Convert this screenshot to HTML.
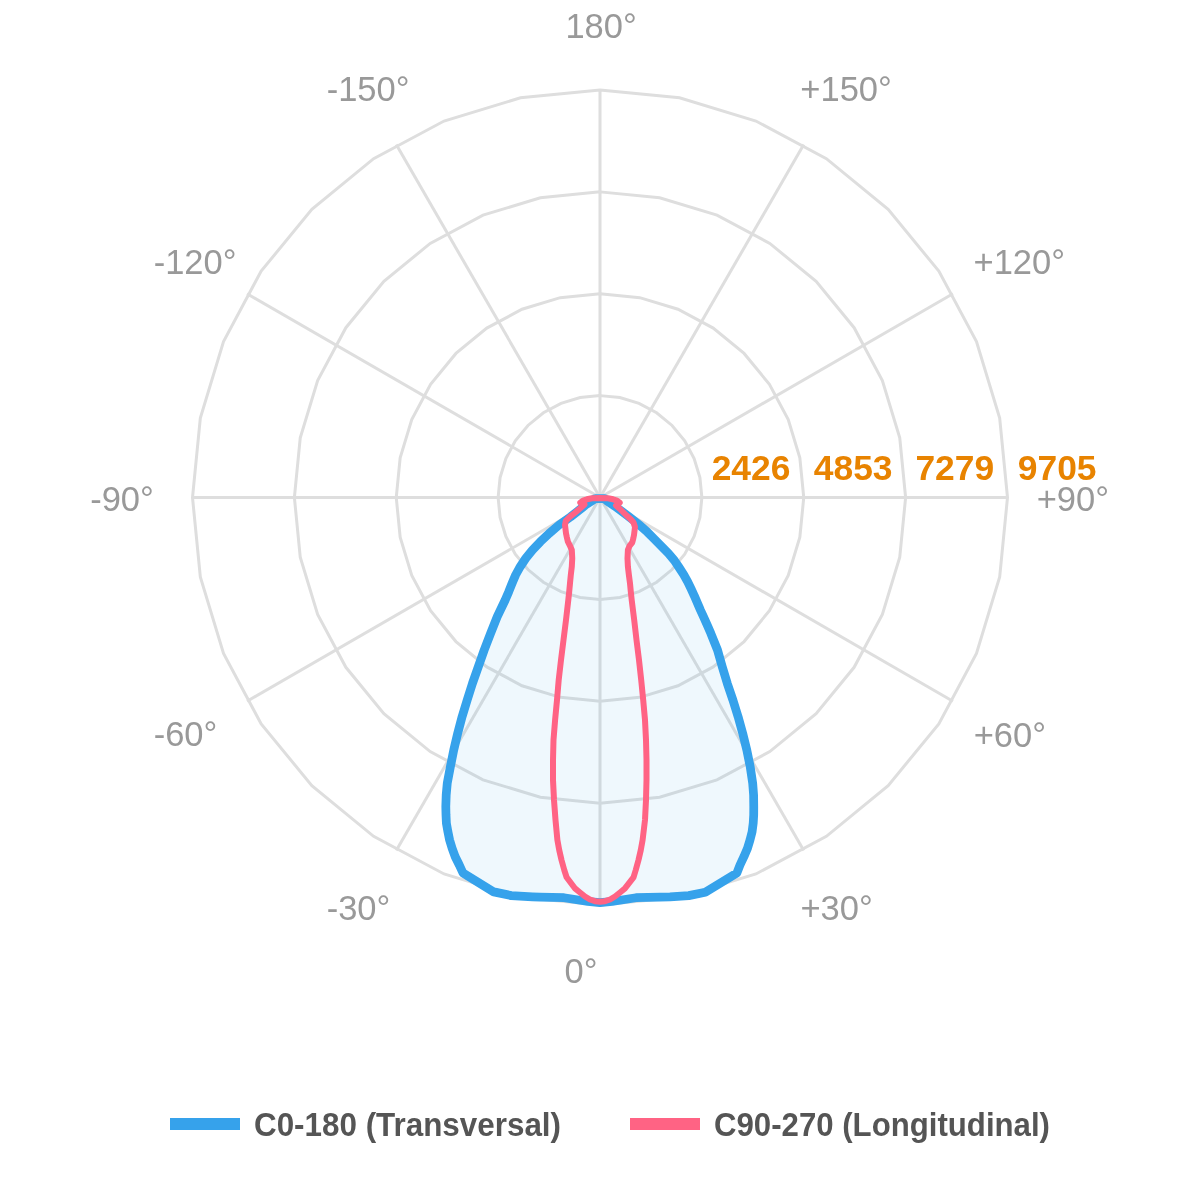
<!DOCTYPE html><html><head><meta charset="utf-8"><style>html,body{margin:0;padding:0;background:#fff;overflow:hidden;}svg{display:block;will-change:transform;}text{font-family:"Liberation Sans",sans-serif;}</style></head><body>
<svg width="1200" height="1200" viewBox="0 0 1200 1200">
<path d="M600.00,395.62 L619.87,397.58 L638.99,403.38 L656.60,412.79 L672.04,425.46 L684.71,440.90 L694.12,458.51 L699.92,477.63 L701.88,497.50 L699.92,517.37 L694.12,536.49 L684.71,554.10 L672.04,569.54 L656.60,582.21 L638.99,591.62 L619.87,597.42 L600.00,599.38 L580.13,597.42 L561.01,591.62 L543.40,582.21 L527.96,569.54 L515.29,554.10 L505.88,536.49 L500.08,517.37 L498.12,497.50 L500.08,477.63 L505.88,458.51 L515.29,440.90 L527.96,425.46 L543.40,412.79 L561.01,403.38 L580.13,397.58 Z" fill="none" stroke="#dedede" stroke-width="3"/>
<path d="M600.00,293.75 L639.75,297.66 L677.97,309.26 L713.20,328.09 L744.07,353.43 L769.41,384.30 L788.24,419.53 L799.84,457.75 L803.75,497.50 L799.84,537.25 L788.24,575.47 L769.41,610.70 L744.07,641.57 L713.20,666.91 L677.97,685.74 L639.75,697.34 L600.00,701.25 L560.25,697.34 L522.03,685.74 L486.80,666.91 L455.93,641.57 L430.59,610.70 L411.76,575.47 L400.16,537.25 L396.25,497.50 L400.16,457.75 L411.76,419.53 L430.59,384.30 L455.93,353.43 L486.80,328.09 L522.03,309.26 L560.25,297.66 Z" fill="none" stroke="#dedede" stroke-width="3"/>
<path d="M600.00,191.88 L659.62,197.75 L716.96,215.14 L769.80,243.38 L816.11,281.39 L854.12,327.70 L882.36,380.54 L899.75,437.88 L905.62,497.50 L899.75,557.12 L882.36,614.46 L854.12,667.30 L816.11,713.61 L769.80,751.62 L716.96,779.86 L659.62,797.25 L600.00,803.12 L540.38,797.25 L483.04,779.86 L430.20,751.62 L383.89,713.61 L345.88,667.30 L317.64,614.46 L300.25,557.12 L294.38,497.50 L300.25,437.88 L317.64,380.54 L345.88,327.70 L383.89,281.39 L430.20,243.38 L483.04,215.14 L540.38,197.75 Z" fill="none" stroke="#dedede" stroke-width="3"/>
<path d="M600.00,90.00 L679.50,97.83 L755.94,121.02 L826.39,158.68 L888.15,209.35 L938.82,271.11 L976.48,341.56 L999.67,418.00 L1007.50,497.50 L999.67,577.00 L976.48,653.44 L938.82,723.89 L888.15,785.65 L826.39,836.32 L755.94,873.98 L679.50,897.17 L600.00,905.00 L520.50,897.17 L444.06,873.98 L373.61,836.32 L311.85,785.65 L261.18,723.89 L223.52,653.44 L200.33,577.00 L192.50,497.50 L200.33,418.00 L223.52,341.56 L261.18,271.11 L311.85,209.35 L373.61,158.68 L444.06,121.02 L520.50,97.83 Z" fill="none" stroke="#dedede" stroke-width="3"/>
<line x1="600.00" y1="497.50" x2="600.00" y2="90.00" stroke="#dedede" stroke-width="3"/>
<line x1="600.00" y1="497.50" x2="803.75" y2="144.59" stroke="#dedede" stroke-width="3"/>
<line x1="600.00" y1="497.50" x2="952.91" y2="293.75" stroke="#dedede" stroke-width="3"/>
<line x1="600.00" y1="497.50" x2="1007.50" y2="497.50" stroke="#dedede" stroke-width="3"/>
<line x1="600.00" y1="497.50" x2="952.91" y2="701.25" stroke="#dedede" stroke-width="3"/>
<line x1="600.00" y1="497.50" x2="803.75" y2="850.41" stroke="#dedede" stroke-width="3"/>
<line x1="600.00" y1="497.50" x2="600.00" y2="905.00" stroke="#dedede" stroke-width="3"/>
<line x1="600.00" y1="497.50" x2="396.25" y2="850.41" stroke="#dedede" stroke-width="3"/>
<line x1="600.00" y1="497.50" x2="247.09" y2="701.25" stroke="#dedede" stroke-width="3"/>
<line x1="600.00" y1="497.50" x2="192.50" y2="497.50" stroke="#dedede" stroke-width="3"/>
<line x1="600.00" y1="497.50" x2="247.09" y2="293.75" stroke="#dedede" stroke-width="3"/>
<line x1="600.00" y1="497.50" x2="396.25" y2="144.59" stroke="#dedede" stroke-width="3"/>
<g style="opacity:0.999">
<text x="565.45" y="37.90" font-size="34.5" fill="#999">180°</text>
<text x="800.35" y="101.05" font-size="34.5" fill="#999">+150°</text>
<text x="326.70" y="101.05" font-size="34.5" fill="#999">-150°</text>
<text x="973.50" y="274.20" font-size="34.5" fill="#999">+120°</text>
<text x="153.70" y="274.30" font-size="34.5" fill="#999">-120°</text>
<text x="1036.70" y="510.55" font-size="34.5" fill="#999">+90°</text>
<text x="90.20" y="510.60" font-size="34.5" fill="#999">-90°</text>
<text x="973.70" y="746.55" font-size="34.5" fill="#999">+60°</text>
<text x="153.70" y="746.30" font-size="34.5" fill="#999">-60°</text>
<text x="800.40" y="919.90" font-size="34.5" fill="#999">+30°</text>
<text x="326.70" y="919.90" font-size="34.5" fill="#999">-30°</text>
<text x="564.60" y="982.90" font-size="34.5" fill="#999">0°</text>
</g>
<path d="M604.50,498.50 L600.00,498.50 L595.50,498.50 L586.50,504.20 L581.50,508.30 L570.70,516.70 L559.00,525.00 L549.20,533.30 L540.40,541.70 L532.50,550.00 L525.80,558.30 L520.20,566.70 L515.60,575.00 L512.10,583.30 L508.75,591.70 L505.20,600.00 L497.25,616.70 L490.60,633.30 L484.20,650.00 L478.30,666.70 L472.50,683.30 L467.20,700.00 L462.10,716.70 L457.70,733.30 L453.75,750.00 L450.40,766.70 L447.25,783.30 L446.20,795.00 L445.80,806.70 L446.00,815.00 L446.40,823.30 L447.90,831.70 L449.60,840.00 L452.10,848.30 L455.20,856.70 L459.30,865.00 L463.00,873.00 L493.75,891.90 L511.25,895.60 L532.50,896.90 L540.00,897.20 L564.00,897.70 L588.00,901.50 L600.00,902.70 L612.00,901.50 L636.00,897.70 L660.00,897.20 L670.00,896.90 L688.75,895.60 L705.30,892.20 L736.90,873.00 L740.00,865.00 L743.90,856.70 L747.50,848.30 L750.00,840.00 L752.10,831.70 L753.20,823.30 L753.70,815.00 L753.75,806.70 L753.60,795.00 L752.70,783.30 L750.20,766.70 L746.80,750.00 L742.70,733.30 L738.10,716.70 L732.90,700.00 L727.25,683.30 L722.25,666.70 L717.50,650.00 L710.80,633.30 L707.20,625.00 L703.50,616.70 L700.40,610.00 L697.40,603.00 L694.30,595.80 L691.00,588.70 L687.60,581.70 L683.70,574.60 L679.10,567.50 L674.30,560.40 L668.30,553.30 L661.40,546.20 L654.50,539.20 L647.40,532.10 L640.00,525.40 L628.00,516.00 L615.00,506.30 L606.50,500.60 Z" fill="rgba(54,162,235,0.08)" stroke="#36a2eb" stroke-width="8.75" stroke-linejoin="round"/>
<path d="M600.00,498.10 L592.00,498.20 L587.00,499.30 L583.00,500.60 L580.30,502.60 L584.50,504.50 L580.00,508.50 L574.75,513.00 L570.00,516.70 L565.80,520.80 L565.00,525.00 L566.00,533.30 L566.90,537.50 L567.90,541.70 L570.00,545.80 L571.80,550.00 L572.25,558.30 L571.80,566.70 L570.80,575.00 L570.00,583.30 L569.20,591.70 L568.30,600.00 L566.00,620.00 L563.50,640.00 L561.00,660.00 L558.70,680.00 L557.00,700.00 L555.10,720.00 L553.50,740.00 L553.00,760.00 L553.00,780.00 L554.00,800.00 L555.50,820.00 L557.40,840.00 L559.20,850.00 L561.50,860.00 L564.25,870.00 L566.60,877.20 L575.25,888.70 L580.00,892.50 L585.00,896.50 L590.00,899.50 L595.00,901.20 L600.00,901.70 L605.00,901.20 L610.00,899.50 L615.00,896.50 L620.00,892.50 L624.75,888.70 L633.50,877.40 L635.75,870.00 L638.50,860.00 L640.80,850.00 L642.60,840.00 L645.00,820.00 L646.00,800.00 L646.50,780.00 L646.50,760.00 L646.00,740.00 L645.00,720.00 L643.20,700.00 L641.20,680.00 L639.00,660.00 L636.50,640.00 L634.20,620.00 L631.70,600.00 L630.80,591.70 L630.00,583.30 L628.90,575.00 L627.90,566.70 L627.50,558.30 L627.90,550.00 L629.60,545.80 L632.25,542.50 L633.30,538.50 L634.00,535.00 L634.50,531.00 L635.00,527.00 L633.50,522.50 L630.50,519.00 L626.50,515.50 L623.00,512.00 L620.00,509.00 L616.00,505.50 L619.70,502.60 L617.00,500.60 L613.00,499.30 L608.00,498.20 Z" fill="none" stroke="#ff6384" stroke-width="6" stroke-linejoin="round"/>
<text x="711.70" y="479.80" font-size="35.4" font-weight="bold" fill="#e88300">2426</text>
<text x="813.80" y="479.80" font-size="35.4" font-weight="bold" fill="#e88300">4853</text>
<text x="915.40" y="479.80" font-size="35.4" font-weight="bold" fill="#e88300">7279</text>
<text x="1017.80" y="479.80" font-size="35.4" font-weight="bold" fill="#e88300">9705</text>
<rect x="170" y="1118" width="70" height="12" fill="#36a2eb"/>
<rect x="630" y="1118" width="70" height="12" fill="#ff6384"/>
<text x="254.00" y="1136.00" font-size="32.3" font-weight="bold" fill="#555" textLength="307" lengthAdjust="spacingAndGlyphs">C0-180 (Transversal)</text>
<text x="714.00" y="1136.00" font-size="32.3" font-weight="bold" fill="#555" textLength="336" lengthAdjust="spacingAndGlyphs">C90-270 (Longitudinal)</text>
</svg></body></html>
